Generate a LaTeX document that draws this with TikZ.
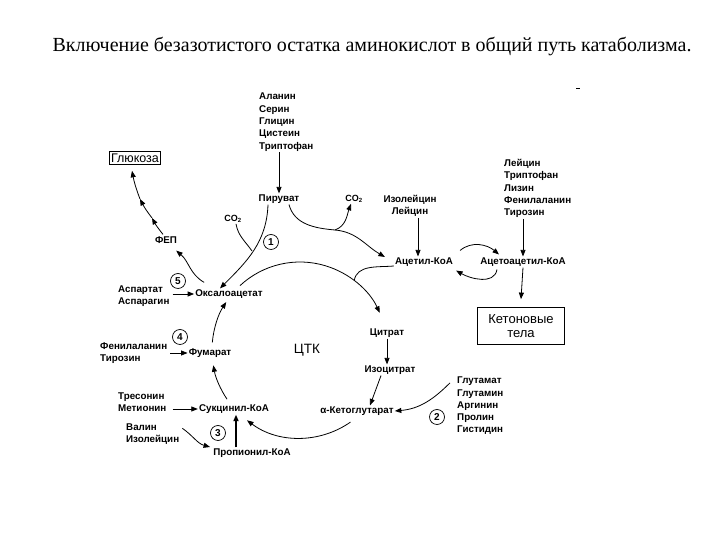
\documentclass[tikz,border=0pt]{standalone}
\usepackage{fontspec}
\setmainfont{Liberation Serif}
\newfontfamily\lab{Liberation Sans}
\usetikzlibrary{arrows.meta}
\begin{document}
\begin{tikzpicture}[x=1pt,y=1pt,
  lbl/.style={font=\lab\bfseries\fontsize{9.8}{12}\selectfont, inner sep=1pt},
  lst/.style={align=left, inner sep=1pt, font=\lab\bfseries\fontsize{9.8}{12.3}\selectfont},
  arr/.style={-{Triangle[length=6.5pt,width=5pt]}, line width=0.8pt},
  ln/.style={line width=0.8pt},
  num/.style={circle, draw, line width=0.7pt, minimum size=15pt, inner sep=0pt, font=\lab\bfseries\fontsize{10}{10}\selectfont},
  small/.style={font=\lab\bfseries\fontsize{9}{10}\selectfont, inner sep=1pt}
]
\useasboundingbox (0,0) rectangle (720,540);
\node[font=\fontsize{20}{24}\selectfont] (title) at (372,493) {Включение безазотистого остатка аминокислот в общий путь катаболизма.};
\draw[line width=0.8pt] (576,452) -- (580,452);

% nodes
\node[lst, anchor=north west] (aaTop) at (258,448) {Аланин\\Серин\\Глицин\\Цистеин\\Триптофан};
\node[lbl] (pyr) at (279,341) {Пируват};
\node[draw, line width=0.9pt, inner sep=2pt, font=\lab\fontsize{12.5}{14}\selectfont] (glc) at (135,382) {Глюкоза};
\node[lbl] (fep) at (166,300) {ФЕП};
\node[small] (co2a) at (233,321) {CO\textsubscript{2}};
\node[num] (c1) at (271,298) {1};
\node[small] (co2b) at (354,341) {CO\textsubscript{2}};
\node[lst, align=center] (ile) at (410,334) {Изолейцин\\Лейцин};
\node[lbl] (acet) at (424,278) {Ацетил-КоА};
\node[lbl] (acac) at (523,278) {Ацетоацетил-КоА};
\node[lst, anchor=north west] (ketoAA) at (503,382) {Лейцин\\Триптофан\\Лизин\\Фенилаланин\\Тирозин};
\node[draw, line width=0.8pt, align=center, minimum width=87pt, minimum height=37pt, inner sep=1pt, font=\lab\fontsize{13}{14.5}\selectfont] (keto) at (521,214) {Кетоновые\\тела};
\node[lbl] (oxa) at (229,246) {Оксалоацетат};
\node[num] (c5) at (178,259) {5};
\node[lst, anchor=west] (asp) at (117,244) {Аспартат\\Аспарагин};
\node[lbl] (fum) at (210,187) {Фумарат};
\node[num] (c4) at (180,203) {4};
\node[lst, anchor=west] (phe) at (99,187) {Фенилаланин\\Тирозин};
\node[lbl] (suc) at (234,131) {Сукцинил-КоА};
\node[lst, anchor=west] (thr) at (117,138) {Тресонин\\Метионин};
\node[num] (c3) at (218,107) {3};
\node[lst, anchor=west] (val) at (125,106) {Валин\\Изолейцин};
\node[lbl] (prop) at (252,87) {Пропионил-КоА};
\node[lbl] (cit) at (387,207) {Цитрат};
\node[lbl] (iso) at (390,170) {Изоцитрат};
\node[lbl] (akg) at (357,129) {α-Кетоглутарат};
\node[lst, anchor=west] (glu) at (456,134) {Глутамат\\Глутамин\\Аргинин\\Пролин\\Гистидин};
\node[num] (c2) at (437,123) {2};
\node[font=\lab\fontsize{13.5}{15}\selectfont] (ctk) at (307,190) {ЦТК};
\coordinate (tca) at (300,190);
\coordinate (jn) at ([shift={(52:88pt)}]tca);
\coordinate (j1) at (252,289);
\coordinate (m1) at (335,310);
\coordinate (g1) at (152,322);
\coordinate (g2) at (140,341);

% connectors
\draw[arr] (aaTop.south -| pyr.north) -- (pyr.north);
\draw[arr] ([xshift=-11pt]pyr.south) to[out=-92,in=45] ([xshift=-9pt]oxa.north);
\draw[ln] ([xshift=3pt]co2a.south) to[out=-80,in=125] (j1);
\draw[ln] ([xshift=10pt]pyr.south) to[out=-75,in=175] (m1);
\draw[arr] (m1) to[out=-5,in=150] ([shift={(-9pt,5pt)}]acet.west);
\draw[arr] (m1) to[out=20,in=-110] ([xshift=-3pt]co2b.south);
\draw[arr] ([xshift=8pt]ile.south) -- ([xshift=-6pt]acet.north);
\draw[arr] ([shift={(6pt,6pt)}]acet.north east) to[out=40,in=140] ([shift={(-24pt,2pt)}]acac.north);
\draw[arr] ([shift={(-26pt,-2pt)}]acac.south) to[out=-100,in=-30] ([shift={(2pt,-3pt)}]acet.south east);
\draw[arr] (ketoAA.south -| acac.north) -- (acac.north);
\draw[arr] (acac.south) -- ([yshift=8pt]keto.north);
% TCA cycle
\draw[arr] ([shift={(133:88pt)}]tca) arc[start angle=133,end angle=25,radius=88pt];
\draw[ln] ([yshift=-4pt]acet.west) to[out=185,in=80] (jn);
\draw[arr] (cit.south) -- ([xshift=-3pt]iso.north);
\draw[arr] ([xshift=-9pt]iso.south) -- ([xshift=13pt]akg.north);
\draw[arr] ([shift={(-6pt,-7pt)}]glu.north west) to[out=225,in=5] (akg.east);
\draw[arr] ([shift={(305:88pt)}]tca) arc[start angle=305,end angle=233,radius=88pt];
\draw[arr] ([shift={(214:88pt)}]tca) arc[start angle=214,end angle=190,radius=88pt];
\draw[arr] ([shift={(175:88pt)}]tca) arc[start angle=175,end angle=147,radius=88pt];
\draw[-{Triangle[length=6.5pt,width=5pt]}, line width=1.6pt] ([xshift=-16pt]prop.north) -- ([xshift=2pt]suc.south);
\draw[arr] ([shift={(2pt,-6pt)}]val.north east) to[out=-35,in=165] ([shift={(-2pt,6pt)}]prop.west);
\draw[arr, shorten <=5pt] (thr.east |- suc.west) -- (suc.west);
\draw[arr, shorten <=2pt] (phe.east |- fum.west) -- (fum.west);
\draw[arr, shorten <=2pt] (asp.east |- oxa.west) -- (oxa.west);
\draw[arr] ([shift={(10pt,6pt)}]oxa.north west) to[out=150,in=-40] ([shift={(-2pt,-6pt)}]fep.south east);
\draw[arr] ([shift={(-3pt,1pt)}]fep.north) to[bend left=5] (g1);
\draw[arr] (g1) to[bend left=5] (g2);
\draw[arr] (g2) to[bend left=5] ([shift={(-3pt,-6pt)}]glc.south);
\end{tikzpicture}
\end{document}
